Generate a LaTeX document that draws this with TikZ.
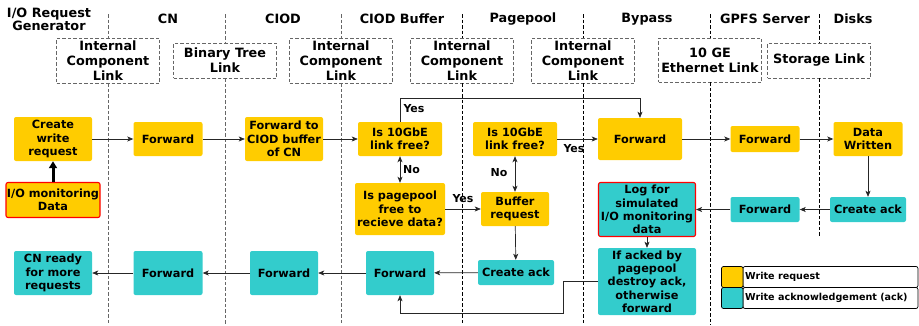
\documentclass[tikz,border=0pt]{standalone}
\usepackage{fontspec}
\setmainfont{DejaVu Sans}
\usetikzlibrary{arrows.meta,calc}
\definecolor{yel}{HTML}{FFCC00}
\definecolor{tea}{HTML}{33CCCC}
\definecolor{dgray}{HTML}{666666}
\begin{document}
\begin{tikzpicture}[x=1pt,y=-1pt,
 box/.style={rounded corners=2pt, inner sep=0pt, align=center, font=\fontsize{11.3}{13.3}\selectfont\bfseries},
 req/.style={box, fill=yel},
 ack/.style={box, fill=tea},
 mon/.style={draw=red, line width=1.1pt},
 lnkbox/.style={draw=dgray, dash pattern=on 3.5pt off 2pt, line width=0.7pt, inner sep=0pt, minimum width=103pt, align=center, fill=white, font=\fontsize{12.8}{15.2}\selectfont\bfseries},
 hdr/.style={font=\fontsize{12.8}{15}\selectfont\bfseries, align=center, inner sep=0pt},
 lanea/.style={dash pattern=on 3.5pt off 2pt, line width=0.7pt, draw=dgray},
 laneb/.style={dash pattern=on 3.5pt off 2pt, line width=0.7pt, draw=black},
 arr/.style={-{Stealth[length=6pt,width=5pt,inset=1.5pt]}, line width=0.7pt, draw=black!85},
 arrb/.style={{Stealth[length=6pt,width=5pt,inset=1.5pt]}-{Stealth[length=6pt,width=5pt,inset=1.5pt]}, line width=0.9pt, draw=black!85},
 lbl/.style={font=\fontsize{11}{13}\selectfont\bfseries, inner sep=0pt},
 legtxt/.style={font=\fontsize{9.6}{11}\selectfont\bfseries, inner sep=0pt, anchor=west},
]
\useasboundingbox (0,0) rectangle (919,325);

% headers
\node[hdr] (hgen) at (49,19.5) {I/O Request\\[-1.5pt]Generator};
\node[hdr] (hcn) at (168,19) {CN};
\node[hdr] (hciod) at (283,19) {CIOD};
\node[hdr] (hbuf) at (402,19) {CIOD Buffer};
\node[hdr] (hpp) at (523,19) {Pagepool};
\node[hdr] (hbyp) at (647,19) {Bypass};
\node[hdr] (hgpfs) at (765,19) {GPFS Server};
\node[hdr] (hdisk) at (853,19) {Disks};

% link boxes
\node[lnkbox, minimum height=45pt] (l1) at (108,60.5) {Internal\\Component\\Link};
\node[lnkbox, minimum height=35pt] (l2) at (225,60.5) {Binary Tree\\Link};
\node[lnkbox, minimum height=45pt] (l3) at (341,60.5) {Internal\\Component\\Link};
\node[lnkbox, minimum height=45pt] (l4) at (462,60.5) {Internal\\Component\\Link};
\node[lnkbox, minimum height=45pt] (l5) at (583,60.5) {Internal\\Component\\Link};
\node[lnkbox, minimum height=44pt] (l6) at (710,60) {10 GE\\Ethernet Link};
\node[lnkbox, minimum height=35pt] (l7) at (819,60.5) {Storage Link};

% lanes
\coordinate (ytop) at (0,14);
\coordinate (ybot) at (0,325);
\coordinate (ydisk) at (0,236);
\foreach \l in {l1,l2,l3}{
  \draw[lanea] (\l.north |- ytop) -- (\l.north);
  \draw[lanea] (\l.south) -- (\l.south |- ybot);
}
\foreach \l in {l4,l5,l6}{
  \draw[laneb] (\l.north |- ytop) -- (\l.north);
  \draw[laneb] (\l.south) -- (\l.south |- ybot);
}
\draw[laneb] (l7.north |- ytop) -- (l7.north);
\draw[laneb] (l7.south) -- (l7.south |- ydisk);

% row 1
\node[req, minimum width=78pt, minimum height=44pt] (cwr) at (53,139) {Create\\write\\request};
\node[req, minimum width=69pt, minimum height=34pt] (fwd1) at (168,139) {Forward};
\node[req, minimum width=78pt, minimum height=44pt] (fciod) at (284,139) {Forward to\\CIOD buffer\\of CN};
\node[req, minimum width=84pt, minimum height=34pt] (q1) at (400,139) {Is 10GbE\\link free?};
\node[req, minimum width=84pt, minimum height=34pt] (q2) at (515,139) {Is 10GbE\\link free?};
\node[req, minimum width=84pt, minimum height=42pt] (fbyp) at (640,139) {Forward};
\node[req, minimum width=69pt, minimum height=26pt] (fgpfs) at (765,139) {Forward};
\node[req, minimum width=69pt, minimum height=34pt] (dw) at (868,139) {Data\\Written};

% row 2
\node[req, mon, minimum width=94pt, minimum height=35pt] (iom) at (53,200) {I/O monitoring\\Data};
\node[req, minimum width=90pt, minimum height=52pt] (qpp) at (400,209) {Is pagepool\\free to\\recieve data?};
\node[req, minimum width=68pt, minimum height=34pt] (buf) at (515,209) {Buffer\\request};
\node[ack, mon, minimum width=97pt, minimum height=54pt] (log) at (647,209.5) {Log for\\simulated\\I/O monitoring\\data};
\node[ack, minimum width=69pt, minimum height=25pt] (fack) at (765,209.5) {Forward};
\node[ack, minimum width=76pt, minimum height=25pt] (cack) at (868,209.5) {Create ack};

% row 3
\node[ack, minimum width=78pt, minimum height=44pt] (cnr) at (53,273) {CN ready\\for more\\requests};
\node[ack, minimum width=69pt, minimum height=44pt] (f3a) at (168,273) {Forward};
\node[ack, minimum width=68pt, minimum height=44pt] (f3b) at (284,273) {Forward};
\node[ack, minimum width=68pt, minimum height=44pt] (f3c) at (400,273) {Forward};
\node[ack, minimum width=76pt, minimum height=25pt] (cack2) at (516,272.5) {Create ack};
\node[ack, minimum width=98pt, minimum height=67pt] (ifack) at (647,281.5) {If acked by\\pagepool\\destroy ack,\\otherwise\\forward};

% connectors
\draw[arr] (cwr) -- (fwd1);
\draw[arr] (fwd1) -- (fciod);
\draw[arr] (fciod) -- (q1);
\coordinate (yyes) at (0,98);
\draw[arr] (q1.north) -- (q1.north |- yyes) -- (fbyp.north |- yyes) -- (fbyp.north);
\node[lbl] (lyes1) at (414,108.5) {Yes};
\draw[arrb] (q1) -- (qpp);
\node[lbl, anchor=west] (lno1) at (403,170) {No};
\draw[arr] (qpp) -- (buf);
\node[lbl] (lyes2) at (463,199) {Yes};
\draw[arrb] (q2) -- (buf);
\node[lbl] (lno2) at (499,173) {No};
\draw[arr] (q2) -- (fbyp);
\node[lbl] (lyes3) at (574,149) {Yes};
\draw[arr] (fbyp) -- (fgpfs);
\draw[arr] (fgpfs) -- (dw);
\draw[arr] (dw) -- (cack);
\draw[arr] (cack) -- (fack);
\draw[arr] (fack) -- (log);
\draw[arr] (log) -- (ifack);
\coordinate (xbend) at (563,0);
\coordinate (ylow) at (0,313);
\draw[arr] (ifack.west |- 0,281) -- (xbend |- 0,281) -- (xbend |- ylow) -- (f3c.south |- ylow) -- (f3c.south);
\draw[arr] (buf) -- (cack2);
\draw[arr] (cack2) -- (f3c);
\draw[arr] (f3c) -- (f3b);
\draw[arr] (f3b) -- (f3a);
\draw[arr] (f3a) -- (cnr);
\draw[-{Triangle[length=7pt,width=8pt]}, line width=3pt] (iom) -- (cwr);

% legend
\draw[rounded corners=2pt, fill=white, line width=0.7pt] (743,266.5) rectangle (918,287.5);
\draw[rounded corners=2pt, fill=white, line width=0.7pt] (743,287.5) rectangle (918,308.5);
\draw[rounded corners=2pt, fill=yel, line width=0.7pt] (721.5,266.5) rectangle (743,287.5);
\draw[rounded corners=2pt, fill=tea, line width=0.7pt] (721.5,287.5) rectangle (743,308.5);
\node[legtxt] (lg1) at (745,277) {Write request};
\node[legtxt] (lg2) at (745,298) {Write acknowledgement (ack)};
\end{tikzpicture}
\end{document}
